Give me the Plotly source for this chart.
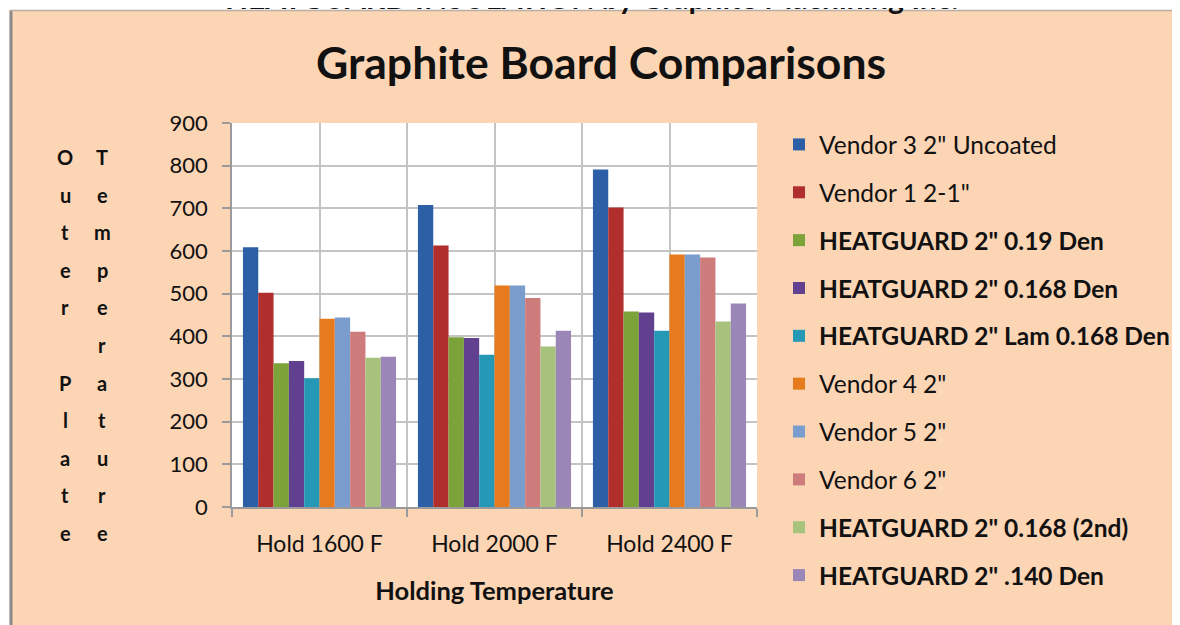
import plotly.graph_objects as go

# ---------------- data ----------------
categories = ["Hold 1600 F", "Hold 2000 F", "Hold 2400 F"]

series_names = [
    'Vendor 3 2" Uncoated',
    'Vendor 1 2-1"',
    'HEATGUARD 2" 0.19 Den',
    'HEATGUARD 2" 0.168 Den',
    'HEATGUARD 2" Lam 0.168 Den',
    'Vendor 4 2"',
    'Vendor 5 2"',
    'Vendor 6 2"',
    'HEATGUARD 2" 0.168 (2nd)',
    'HEATGUARD 2" .140 Den',
]

vendor3_uncoated = [609, 708, 791]
vendor1_2_1 = [502, 613, 702]
hg_019_den = [337, 398, 458]
hg_0168_den = [342, 396, 456]
hg_lam_0168_den = [302, 357, 413]
vendor4 = [441, 519, 592]
vendor5 = [444, 519, 592]
vendor6 = [411, 490, 585]
hg_0168_2nd = [350, 376, 435]
hg_0140_den = [352, 413, 477]

series_values = [
    vendor3_uncoated, vendor1_2_1, hg_019_den, hg_0168_den, hg_lam_0168_den,
    vendor4, vendor5, vendor6, hg_0168_2nd, hg_0140_den,
]

y_ticks = [0, 100, 200, 300, 400, 500, 600, 700, 800, 900]

# ---------------- style ----------------
colors = ["#2C5FA6", "#B02F2D", "#7CA23A", "#61418F", "#2598B5",
          "#E67A1C", "#7B9DCE", "#CE7C7B", "#A6C27D", "#9A86B7"]
FONT = "Lato"
PEACH = "#FCD5B5"
GRID = "#C4C4C4"

OFF = 8                      # page body margin
W, H = 1220, 617
ML, MT, PW, PH = 224, 115, 525, 384
MR = W - ML - PW
MB = H - MT - PH


def px(xs):
    """screen x -> paper x"""
    return (xs - OFF - ML) / PW


def py(ys):
    """screen y -> paper y"""
    return (H - MB - (ys - OFF)) / PH


x_idx = list(range(len(categories)))

fig = go.Figure()
for i, (name, vals) in enumerate(zip(series_names, series_values)):
    label = f"<b>{name}</b>" if name.startswith("HEATGUARD") else name
    fig.add_trace(go.Bar(
        x=x_idx, y=vals, name=label, legendgroup=f"g{i}",
        marker=dict(color=colors[i], line=dict(width=0)),
    ))

annotations = []
annotations.append(dict(text="<b>Graphite Board Comparisons</b>", x=px(601), y=py(62),
                        xref="paper", yref="paper", showarrow=False,
                        font=dict(family=FONT, size=44.5, color="#111"),
                        xanchor="center", yanchor="middle"))
annotations.append(dict(text="<b>HEATGUARD INSULATION by Graphite Machining Inc.</b>",
                        x=px(591), y=py(17), xref="paper", yref="paper", showarrow=False,
                        font=dict(family=FONT, size=30, color="#111"),
                        xanchor="center", yanchor="bottom"))
col1 = "Outer Plate"
col2 = "Temperature"
for k in range(len(col1)):
    yy = 157 + k * 37.6
    for ch, xx in ((col1[k], 65), (col2[k], 102)):
        if ch.strip():
            annotations.append(dict(text=f"<b>{ch}</b>", x=px(xx), y=py(yy),
                                    xref="paper", yref="paper", showarrow=False,
                                    font=dict(family=FONT, size=20, color="#111"),
                                    xanchor="center", yanchor="middle"))

shapes = [
    dict(type="rect", xref="paper", yref="paper", x0=px(-20), x1=px(1300),
         y0=py(10), y1=py(-20), fillcolor="white", line=dict(width=0), layer="below"),
    dict(type="rect", xref="paper", yref="paper", x0=px(-20), x1=px(9.5),
         y0=py(700), y1=py(-20), fillcolor="white", line=dict(width=0), layer="below"),
    dict(type="line", xref="paper", yref="paper", x0=px(11), x1=px(11),
         y0=py(10), y1=py(700), line=dict(color="#8A8A8A", width=3)),
    dict(type="line", xref="paper", yref="paper", x0=px(10), x1=px(1300),
         y0=py(10.5), y1=py(10.5), line=dict(color="#B8B0A8", width=1.5)),
]

fig.update_layout(
    width=W, height=H, autosize=False,
    margin=dict(l=ML, r=MR, t=MT, b=MB),
    paper_bgcolor=PEACH, plot_bgcolor="white",
    barmode="group", bargap=0.125, bargroupgap=0,
    font=dict(family=FONT, size=22, color="#111"),
    showlegend=True,
    legend=dict(x=px(779), y=py(122), xanchor="left", yanchor="top",
                bgcolor="rgba(0,0,0,0)", font=dict(family=FONT, size=24.5, color="#111"),
                tracegroupgap=13, itemwidth=30, traceorder="grouped", maxheight=600),
    annotations=annotations,
    shapes=shapes,
    xaxis=dict(
        range=[-0.5, 2.5], tickmode="array", tickvals=x_idx, ticktext=categories,
        showgrid=True, gridcolor=GRID, gridwidth=1.5, zeroline=False,
        ticks="", showline=True, linecolor="#9A9A9A", linewidth=1.5,
        tickfont=dict(family=FONT, size=23, color="#111"), ticklabelstandoff=16,
        minor=dict(tickmode="array", tickvals=[-0.5, 0.5, 1.5, 2.5], showgrid=True,
                   gridcolor=GRID, gridwidth=1.5, ticks="outside", ticklen=8,
                   tickcolor="#9A9A9A", tickwidth=1.5),
        title=dict(text="<b>Holding Temperature</b>", standoff=26,
                   font=dict(family=FONT, size=25.5, color="#111")),
        fixedrange=True,
    ),
    yaxis=dict(
        range=[0, 900], tickmode="array", tickvals=y_ticks,
        showgrid=True, gridcolor=GRID, gridwidth=1.5, zeroline=False,
        ticks="outside", ticklen=8, tickcolor="#9A9A9A", tickwidth=1.5,
        showline=True, linecolor="#9A9A9A", linewidth=1.5,
        tickfont=dict(family=FONT, size=22, color="#111"), ticklabelstandoff=10,
        fixedrange=True,
    ),
)

fig.write_html("out.html")
